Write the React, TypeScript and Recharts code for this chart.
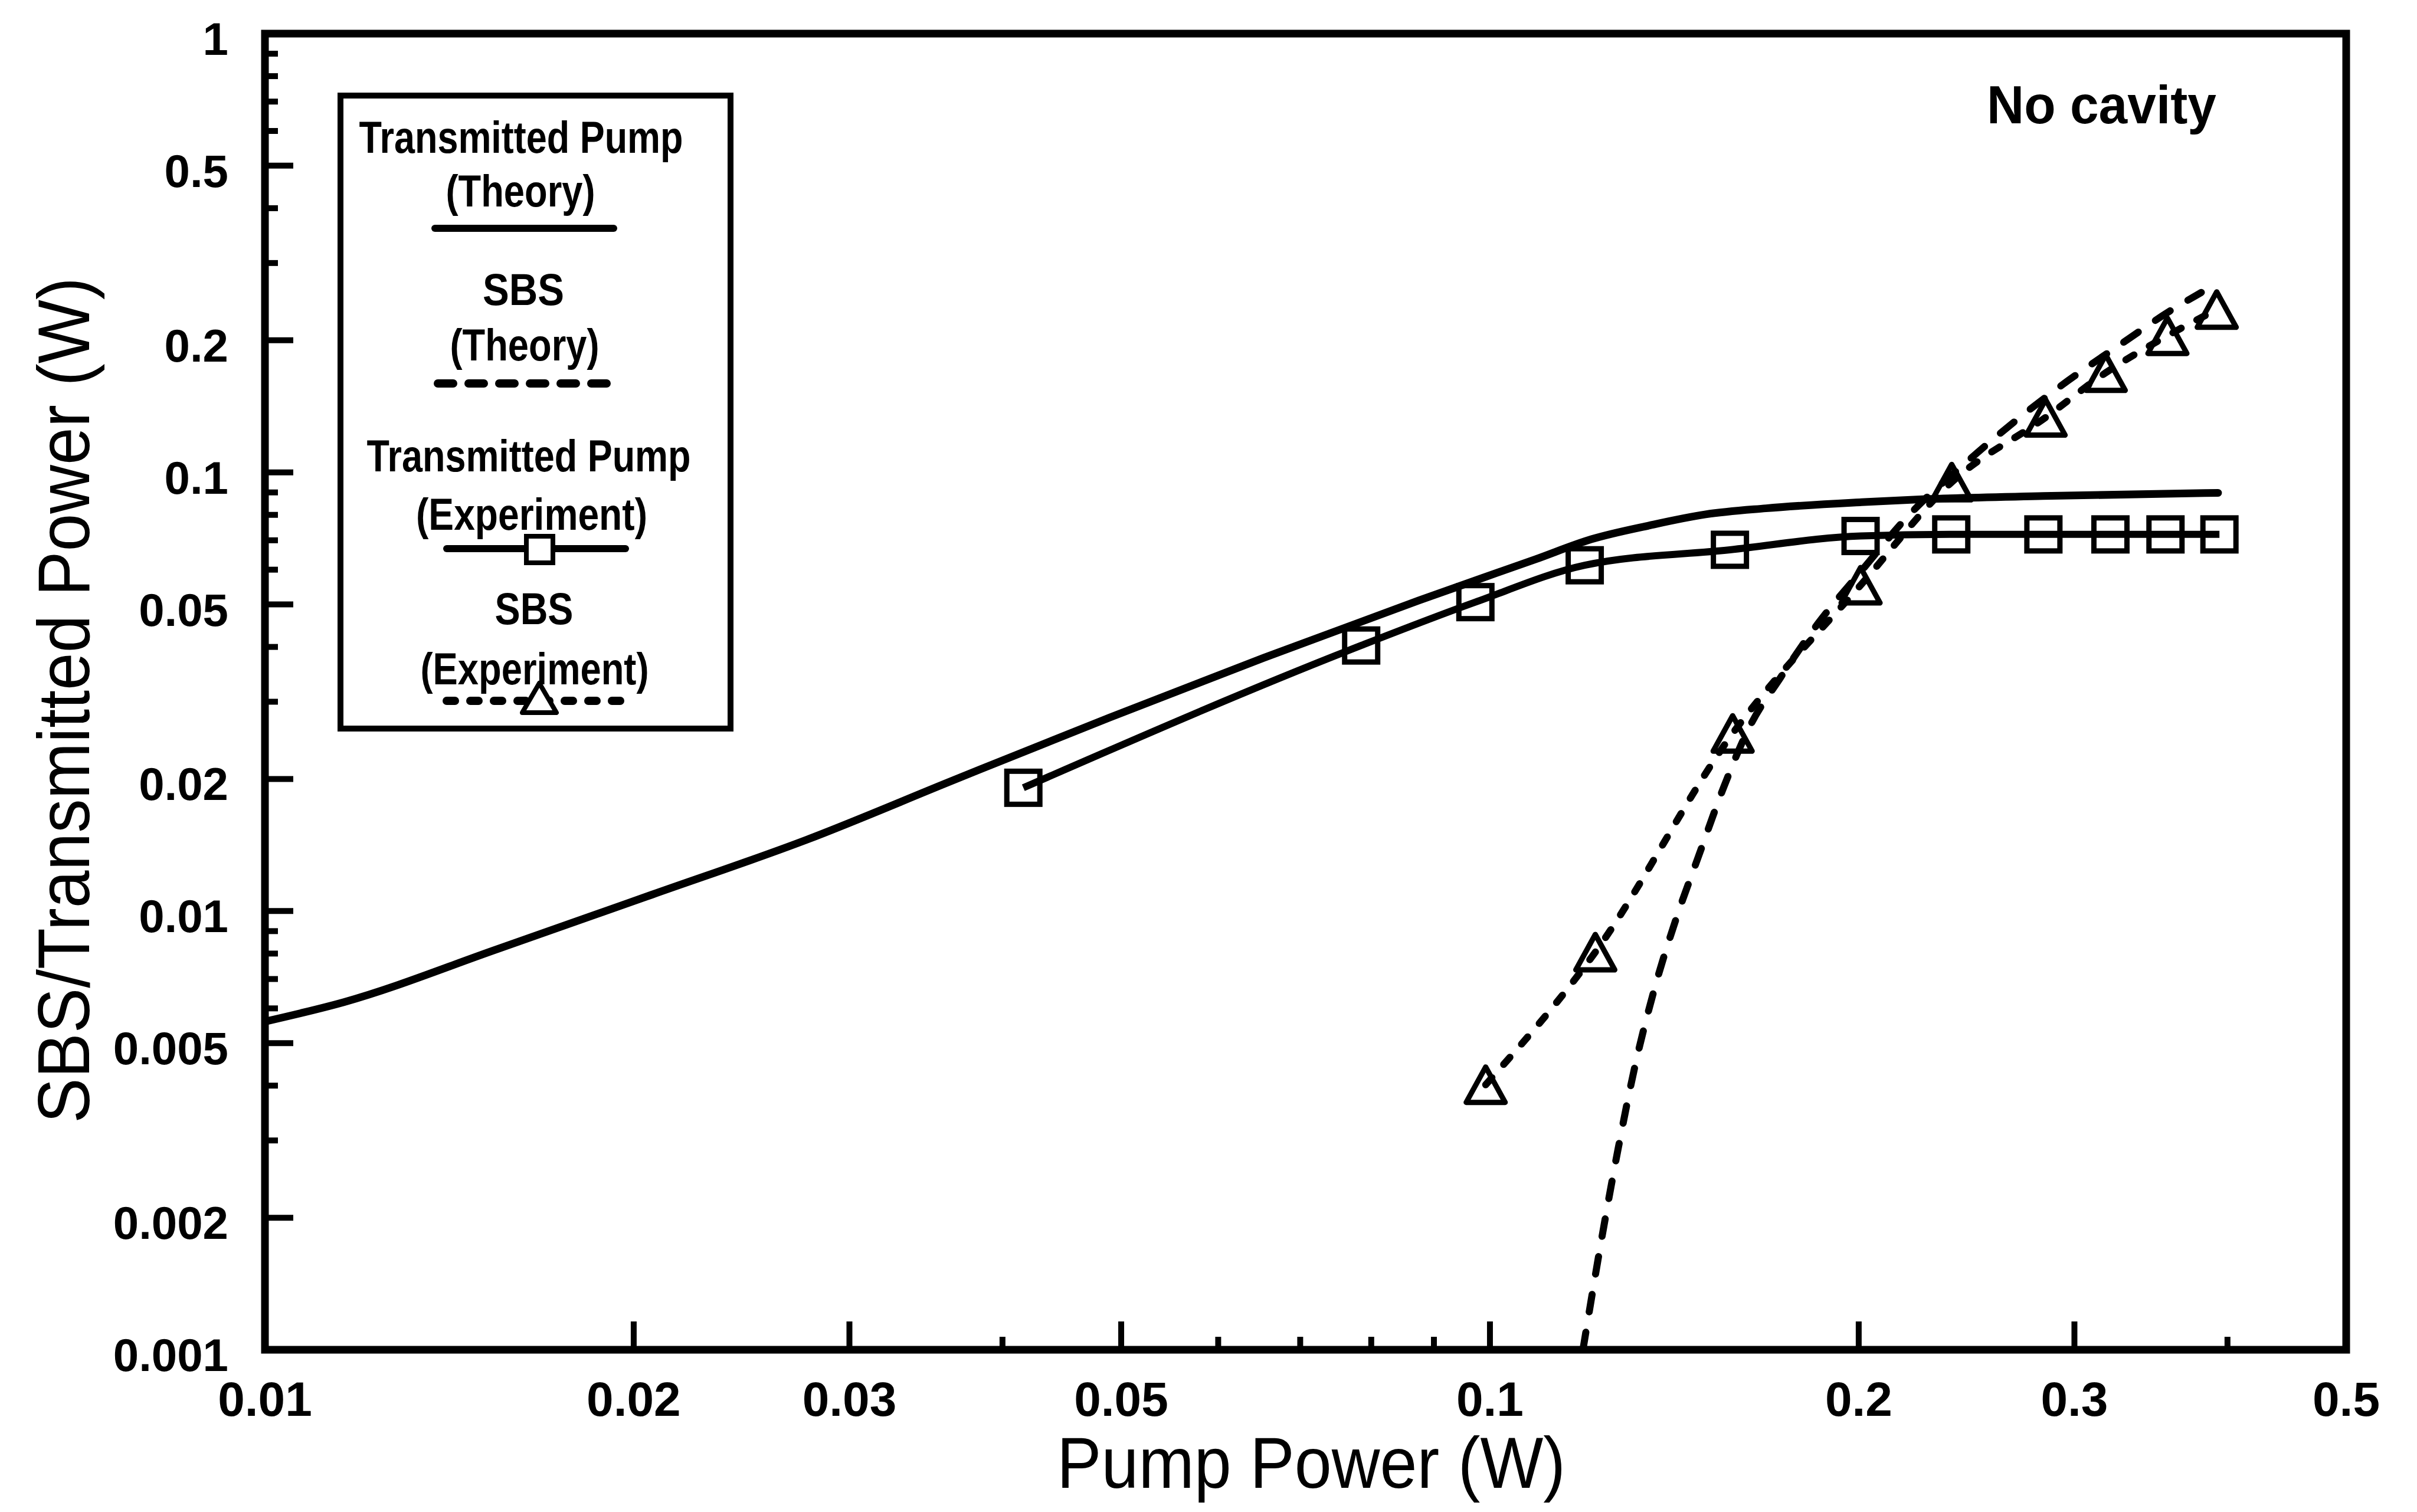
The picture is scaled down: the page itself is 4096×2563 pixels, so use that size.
import React from "react";
import { LineChart, Line, XAxis, YAxis, ReferenceArea, Label } from "recharts";

const W = 4096;
const H = 2563;
const FONT = "'Liberation Sans', Arial, Helvetica, sans-serif";

// Transmitted pump, theory (solid line)
const pumpTheoryX = [0.01, 0.0116, 0.0155, 0.0207, 0.0277, 0.0366, 0.0489, 0.0654, 0.0874, 0.109, 0.121, 0.135, 0.150, 0.168, 0.201, 0.227, 0.283, 0.393];
const pumpTheoryY = [0.0056, 0.0062, 0.0082, 0.0109, 0.01455, 0.01995, 0.0276, 0.0378, 0.051, 0.0634, 0.0704, 0.0757, 0.0802, 0.0828, 0.0855, 0.0869, 0.0883, 0.0898];

// Transmitted pump, experiment (squares)
const pumpExpX = [0.0416, 0.0785, 0.0973, 0.1195, 0.157, 0.2007, 0.238, 0.283, 0.321, 0.356, 0.394];
const pumpExpY = [0.0191, 0.0403, 0.0506, 0.0614, 0.0666, 0.0716, 0.0722, 0.0722, 0.0722, 0.0722, 0.0722];

// SBS, theory (dashed)
const sbsTheoryX = [0.1191, 0.1234, 0.1273, 0.1315, 0.1361, 0.1418, 0.1481, 0.155, 0.1629, 0.1726, 0.1851, 0.2013, 0.2189, 0.2466, 0.2908, 0.3294, 0.3573, 0.3808];
const sbsTheoryY = [0.001, 0.0018, 0.00289, 0.0045, 0.00658, 0.00955, 0.0134, 0.019, 0.0263, 0.034, 0.0451, 0.0599, 0.0789, 0.1073, 0.1556, 0.1983, 0.2313, 0.257];

// SBS, experiment (triangles)
const sbsExpX = [0.0992, 0.1219, 0.1578, 0.2007, 0.2382, 0.2842, 0.3182, 0.3573, 0.392];
const sbsExpY = [0.00402, 0.00806, 0.0254, 0.0553, 0.095, 0.1334, 0.1687, 0.2048, 0.235];

const xTicks = [0.01, 0.02, 0.03, 0.04, 0.05, 0.06, 0.07, 0.08, 0.09, 0.1, 0.2, 0.3, 0.4, 0.5];
const xTickLabels = ["0.01", "0.02", "0.03", "", "0.05", "", "", "", "", "0.1", "0.2", "0.3", "", "0.5"];

const yTicks = [1, 0.9, 0.8, 0.7, 0.6, 0.5, 0.4, 0.3, 0.2, 0.1, 0.09, 0.08, 0.07, 0.06, 0.05, 0.04, 0.03, 0.02, 0.01, 0.009, 0.008, 0.007, 0.006, 0.005, 0.004, 0.003, 0.002, 0.001];
const yTickLabels = ["1", "", "", "", "", "0.5", "", "", "0.2", "0.1", "", "", "", "", "0.05", "", "", "0.02", "0.01", "", "", "", "", "0.005", "", "", "0.002", "0.001"];

const toPoints = (xs: number[], ys: number[]) => xs.map((x, i) => ({ x, y: ys[i] }));
const pumpTheory = toPoints(pumpTheoryX, pumpTheoryY);
const pumpExp = toPoints(pumpExpX, pumpExpY);
const sbsTheory = toPoints(sbsTheoryX, sbsTheoryY);
const sbsExp = toPoints(sbsExpX, sbsExpY);

const xLabelOf = new Map(xTicks.map((t, i) => [t, xTickLabels[i]]));
const yLabelOf = new Map(yTicks.map((t, i) => [t, yTickLabels[i]]));

const XTick = ({ x, y, payload }: any) => {
  const label = xLabelOf.get(payload.value) || "";
  const len = label ? 48 : 22;
  return (
    <g>
      <line x1={x} x2={x} y1={y} y2={y - len} stroke="#000" strokeWidth={10} />
      {label && (
        <text x={x} y={y + 112} textAnchor="middle" fontFamily={FONT} fontWeight="bold" fontSize={82} fill="#000">
          {label}
        </text>
      )}
    </g>
  );
};

const YTick = ({ x, y, payload }: any) => {
  const label = yLabelOf.get(payload.value) || "";
  const len = label ? 48 : 22;
  return (
    <g>
      <line x1={x} x2={x + len} y1={y} y2={y} stroke="#000" strokeWidth={10} />
      {label && (
        <text x={x - 62} y={y + 36} textAnchor="end" fontFamily={FONT} fontWeight="bold" fontSize={78} fill="#000">
          {label}
        </text>
      )}
    </g>
  );
};

const squareDot = (p: any) => (
  <rect key={`sq-${p.index}`} x={p.cx - 28} y={p.cy - 28} width={56} height={56} fill="none" stroke="#000" strokeWidth={9} />
);

const trianglePath = (cx: number, cy: number, w: number, h: number) =>
  `M${cx},${cy - h / 2} L${cx + w / 2},${cy + h / 2} L${cx - w / 2},${cy + h / 2} Z`;

const triangleDot = (p: any) => (
  <path key={`tr-${p.index}`} d={trianglePath(p.cx, p.cy, 66, 60)} fill="none" stroke="#000" strokeWidth={9} strokeLinejoin="round" />
);

const LegendText = ({ cx, y, len, children }: any) => (
  <text x={cx} y={y} textAnchor="middle" fontFamily={FONT} fontWeight="bold" fontSize={76} textLength={len} lengthAdjust="spacingAndGlyphs" fill="#000">
    {children}
  </text>
);

const Overlay = () => (
  <svg width={W} height={H} style={{ position: "absolute", left: 0, top: 0 }}>
    {/* legend box */}
    <rect x={577} y={162} width={661} height={1073} fill="none" stroke="#000" strokeWidth={10} />
    <LegendText cx={883} y={259} len={549}>Transmitted Pump</LegendText>
    <LegendText cx={882} y={350} len={253}>(Theory)</LegendText>
    <line x1={737} x2={1040} y1={387} y2={387} stroke="#000" strokeWidth={12} strokeLinecap="round" />

    <LegendText cx={887} y={517} len={138}>SBS</LegendText>
    <LegendText cx={889} y={611} len={253}>(Theory)</LegendText>
    <line x1={742} x2={1045} y1={650} y2={650} stroke="#000" strokeWidth={14} strokeDasharray="26 26" strokeLinecap="round" />

    <LegendText cx={896} y={799} len={549}>Transmitted Pump</LegendText>
    <LegendText cx={901} y={898} len={392}>(Experiment)</LegendText>
    <line x1={757} x2={1060} y1={930} y2={930} stroke="#000" strokeWidth={12} strokeLinecap="round" />
    <rect x={892} y={909} width={45} height={45} fill="#fff" stroke="#000" strokeWidth={8} />

    <LegendText cx={905} y={1058} len={133}>SBS</LegendText>
    <LegendText cx={906} y={1160} len={387}>(Experiment)</LegendText>
    <line x1={757} x2={1060} y1={1188} y2={1188} stroke="#000" strokeWidth={14} strokeDasharray="14 26" strokeLinecap="round" />
    <path d={trianglePath(914, 1183, 58, 50)} fill="#fff" stroke="#000" strokeWidth={8} strokeLinejoin="round" />

    <text x={3367} y={209} fontFamily={FONT} fontWeight="bold" fontSize={91} textLength={389} lengthAdjust="spacingAndGlyphs" fill="#000">
      No cavity
    </text>
  </svg>
);

export default function App() {
  return (
    <div style={{ position: "absolute", left: 0, top: 0, width: W, height: H, background: "#fff" }}>
      <LineChart width={W} height={H} margin={{ top: 57, right: 120, bottom: 0, left: 0 }}>
        <XAxis
          type="number"
          dataKey="x"
          scale="log"
          domain={[0.01, 0.5]}
          allowDataOverflow
          ticks={xTicks}
          interval={0}
          tick={(p: any) => <XTick {...p} />}
          tickSize={0}
          tickMargin={0}
          tickLine={false}
          axisLine={false}
          height={275}
        >
          <Label
            content={() => (
              <text x={2222} y={2522} textAnchor="middle" fontFamily={FONT} fontSize={122} textLength={862} lengthAdjust="spacingAndGlyphs" fill="#000">
                Pump Power (W)
              </text>
            )}
          />
        </XAxis>
        <YAxis
          type="number"
          dataKey="y"
          scale="log"
          domain={[0.001, 1]}
          allowDataOverflow
          ticks={yTicks}
          interval={0}
          tick={(p: any) => <YTick {...p} />}
          tickSize={0}
          tickMargin={0}
          tickLine={false}
          axisLine={false}
          width={449}
        >
          <Label
            content={() => (
              <text x={151} y={1187} transform="rotate(-90 151 1187)" textAnchor="middle" fontFamily={FONT} fontSize={124} textLength={1434} lengthAdjust="spacingAndGlyphs" fill="#000">
                SBS/Transmitted Power (W)
              </text>
            )}
          />
        </YAxis>
        <ReferenceArea x1={0.01} x2={0.5} y1={0.001} y2={1} fill="none" stroke="#000" strokeWidth={13} ifOverflow="visible" />
        <Line data={pumpTheory} dataKey="y" type="monotone" stroke="#000" strokeWidth={13} strokeLinecap="round" dot={false} activeDot={false} isAnimationActive={false} />
        <Line data={pumpExp} dataKey="y" type="monotone" stroke="#000" strokeWidth={12} dot={squareDot} activeDot={false} isAnimationActive={false} />
        <Line data={sbsTheory} dataKey="y" type="monotone" stroke="#000" strokeWidth={12} strokeDasharray="30 35" strokeLinecap="round" dot={false} activeDot={false} isAnimationActive={false} />
        <Line data={sbsExp} dataKey="y" type="monotone" stroke="#000" strokeWidth={12} strokeDasharray="16 30" strokeLinecap="round" dot={triangleDot} activeDot={false} isAnimationActive={false} />
      </LineChart>
      <Overlay />
    </div>
  );
}
